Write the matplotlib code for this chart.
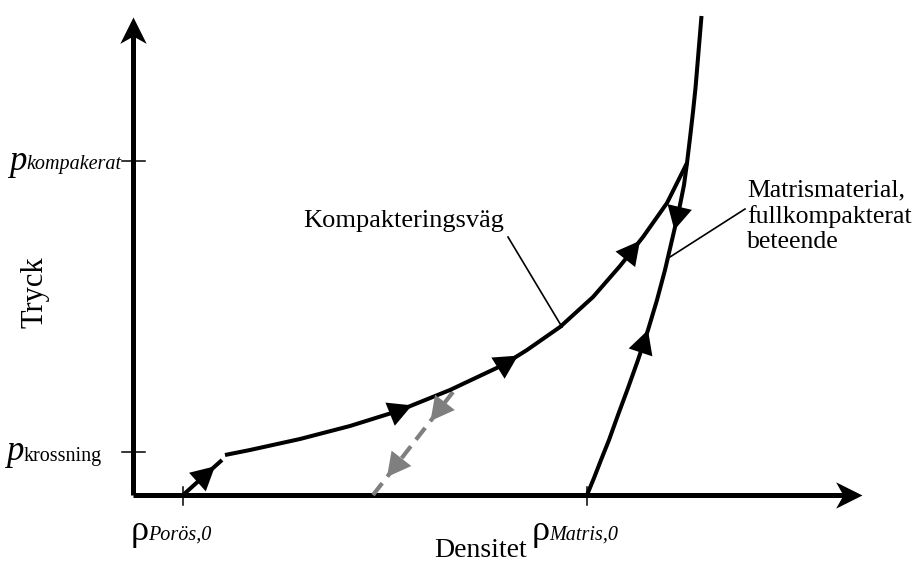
import numpy as np
import matplotlib.pyplot as plt
from matplotlib.path import Path
from matplotlib.offsetbox import TextArea, HPacker, AnnotationBbox

plt.rcParams['font.family'] = ['Liberation Serif', 'DejaVu Serif']

# kompakteringsväg (densitet, tryck) in drawing units
komp_rho = [92, 117, 167, 217, 265, 317, 370, 394, 427, 460, 487, 510, 534, 554]
komp_p = [40, 45, 56, 69, 84, 105, 130, 145, 168, 198, 229, 258, 292, 332]

# krossning av porös struktur fram till p_krossning
kross_rho = [50, 89]
kross_p = [0, 35]

# matrismaterial, fullkompakterat beteende
matris_rho = [454, 461, 468, 476, 485, 495, 505, 515, 524, 532, 539, 546, 551,
              554, 557, 560, 562.5, 564.5, 566.5, 568.5]
matris_p = [0, 17, 35, 55, 80, 107, 135, 165, 195, 225, 255, 285, 310,
            332, 357, 383, 407, 431, 455, 479]

# avlastning (streckad)
avlast_rho = [240, 320]
avlast_p = [0, 103]

p_kompakterat = 334
p_krossning = 43
rho_poros = 50
rho_matris = 454

x_end = 729
y_end = 478

black = "black"
grey = "#7f7f7f"

fig = plt.figure(figsize=(9.19, 5.65), dpi=100)
ax = fig.add_axes([0, 0, 1, 1])
ax.set_xlim(-133, 786)
ax.set_ylim(-70, 495)
ax.axis('off')


def arrow_at(xs, ys, value, color, by='x', backwards=False, size=20):
    xs = np.asarray(xs, float)
    ys = np.asarray(ys, float)
    d = 2.0 if backwards else -2.0
    if by == 'x':
        x1, x0 = value, value + d
        y1, y0 = np.interp(x1, xs, ys), np.interp(x0, xs, ys)
    else:
        y1, y0 = value, value + d
        x1, x0 = np.interp(y1, ys, xs), np.interp(y0, ys, xs)
    ax.annotate("", xy=(x1, y1), xytext=(x0, y0),
                arrowprops=dict(arrowstyle="-|>,head_length=0.85,head_width=0.45",
                                mutation_scale=size, lw=0, fc=color, ec=color,
                                shrinkA=0, shrinkB=0))


# axlar med pilspetsar
arrow_up = Path([(0, 0), (-0.5, -1), (0, -0.72), (0.5, -1), (0, 0)],
                [Path.MOVETO, Path.LINETO, Path.LINETO, Path.LINETO, Path.CLOSEPOLY])
arrow_right = Path([(0, 0), (-1, 0.5), (-0.72, 0), (-1, -0.5), (0, 0)],
                   [Path.MOVETO, Path.LINETO, Path.LINETO, Path.LINETO, Path.CLOSEPOLY])
ax.plot([0, 0], [0, y_end - 15], color=black, lw=3.6, solid_capstyle='butt')
ax.plot([0, x_end - 15], [0, 0], color=black, lw=3.6, solid_capstyle='butt')
ax.plot(0, y_end, marker=arrow_up, ms=38, color=black, mew=0)
ax.plot(x_end, 0, marker=arrow_right, ms=38, color=black, mew=0)

# markeringar på axlarna
for yv in [p_kompakterat, p_krossning]:
    ax.plot([-11, 12], [yv, yv], color=black, lw=1.1)
for xv in [rho_poros, rho_matris]:
    ax.plot([xv, xv], [-10, 8], color=black, lw=1.1)

# kurvor
ax.plot(avlast_rho, avlast_p, color=grey, lw=3, linestyle=(0, (3.6, 2.0)))
ax.plot(kross_rho, kross_p, color=black, lw=2.9, solid_capstyle='butt')
ax.plot(komp_rho, komp_p, color=black, lw=2.9, solid_capstyle='butt')
ax.plot(matris_rho, matris_p, color=black, lw=2.9, solid_capstyle='butt')

arrow_at(kross_rho, kross_p, 82, black)
for xv in [279, 385, 507]:
    arrow_at(komp_rho, komp_p, xv, black)
arrow_at(matris_rho, matris_p, 165, black, by='y')
arrow_at(matris_rho, matris_p, 265, black, by='y', backwards=True)
arrow_at(avlast_rho, avlast_p, 18, grey, by='y', backwards=True)
arrow_at(avlast_rho, avlast_p, 74, grey, by='y', backwards=True)

# etiketter med hänvisningslinjer
ax.text(271, 268, "Kompakteringsväg", fontsize=19, ha='center', va='baseline')
ax.plot([375, 429], [258, 168], color=black, lw=1.2)
ax.text(614, 247, "Matrismaterial,\nfullkompakterat\nbeteende", fontsize=18.5,
        ha='left', va='baseline', linespacing=1.2)
ax.plot([612, 537], [286, 238], color=black, lw=1.2)

ax.text(348, -62, "Densitet", fontsize=20, ha='center', va='baseline')
ax.text(-98, 203, "Tryck", fontsize=22, ha='center', va='center', rotation=90)


def sub_label(main, sub, xy, align, italic_main=True, italic_sub=True, main_size=25):
    a = TextArea(main, textprops=dict(fontsize=main_size, style='italic' if italic_main else 'normal',
                                      family='Liberation Serif'))
    b = TextArea(sub, textprops=dict(fontsize=14.5, style='italic' if italic_sub else 'normal',
                                     family='Liberation Serif'))
    box = HPacker(children=[a, b], align="baseline", pad=0, sep=0)
    ab = AnnotationBbox(box, xy, xycoords='data', box_alignment=align,
                        frameon=False, pad=0)
    ax.add_artist(ab)


sub_label("p", "kompakerat", (-11, p_kompakterat), (1, 0.5))
sub_label("p", "krossning", (-31, p_krossning), (1, 0.5), italic_sub=False)
sub_label("ρ", "Porös,0", (38, -20), (0.5, 1), italic_main=False, main_size=26)
sub_label("ρ", "Matris,0", (442, -20), (0.5, 1), italic_main=False, main_size=26)

plt.savefig("out.png", dpi=100)
